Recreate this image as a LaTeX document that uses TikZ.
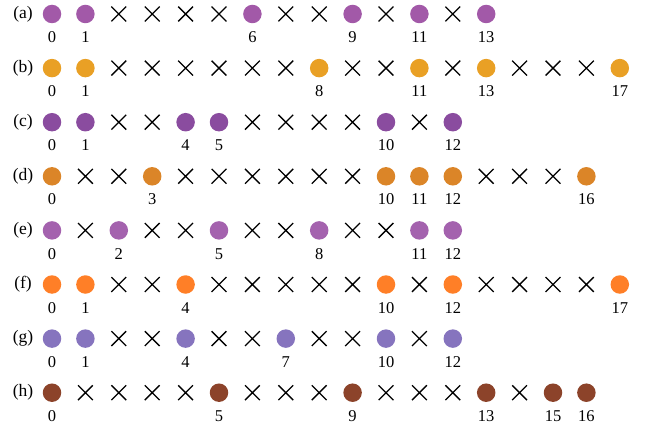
\documentclass[tikz,border=0pt]{standalone}
\usepackage{fontspec}
\setmainfont{Liberation Serif}
\usetikzlibrary{positioning,shapes.misc}

\definecolor{rowa}{HTML}{A259A8}
\definecolor{rowb}{HTML}{E9A025}
\definecolor{rowc}{HTML}{8A4C9F}
\definecolor{rowd}{HTML}{DB8528}
\definecolor{rowe}{HTML}{A462AE}
\definecolor{rowf}{HTML}{FF7F27}
\definecolor{rowg}{HTML}{8674BE}
\definecolor{rowh}{HTML}{8C432A}

\begin{document}
\begin{tikzpicture}[
        x=1pt, y=-1pt,
        dot/.style={circle, inner sep=0pt, minimum size=18.5pt},
        cross/.style={cross out, draw=black, line width=1.3pt,
                      inner sep=0pt, minimum size=13.5pt},
        num/.style={inner sep=0pt, font=\fontsize{16.5}{18}\selectfont},
        rowlab/.style={inner sep=0pt, text height=12.2pt, text depth=3.8pt,
                       font=\fontsize{17.5}{20}\selectfont},
    ]
    \useasboundingbox (0,0) rectangle (646,428);

    % --- Rzędy (a)-(h) ---
    \foreach \row/\dotlist/\crosslist [count=\r from 0] in {
        a/{0,1,6,9,11,13}/{2,3,4,5,7,8,10,12},
        b/{0,1,8,11,13,17}/{2,3,4,5,6,7,9,10,12,14,15,16},
        c/{0,1,4,5,10,12}/{2,3,6,7,8,9,11},
        d/{0,3,10,11,12,16}/{1,2,4,5,6,7,8,9,13,14,15},
        e/{0,2,5,8,11,12}/{1,3,4,6,7,9,10},
        f/{0,1,4,10,12,17}/{2,3,5,6,7,8,9,11,13,14,15,16},
        g/{0,1,4,7,10,12}/{2,3,5,6,8,9,11},
        h/{0,5,9,13,15,16}/{1,2,3,4,6,7,8,10,11,12,14}}{
        % --- Kropki z numerami ---
        \foreach \i in \dotlist {
            \node[dot, fill=row\row] (\row-\i) at (52+33.4*\i, 14+54.1*\r) {};
            \node[num, below=28.6pt of \row-\i.center, anchor=base] (\row-\i-num) {\i};
        }
        % --- Krzyżyki ---
        \foreach \i in \crosslist {
            \node[cross] (\row-\i) at (52+33.4*\i, 14+54.1*\r) {};
        }
        % --- Etykieta rzędu ---
        \node[rowlab, left=29pt of \row-0.center, anchor=center] (lab-\row) {(\row)};
    }
\end{tikzpicture}
\end{document}
